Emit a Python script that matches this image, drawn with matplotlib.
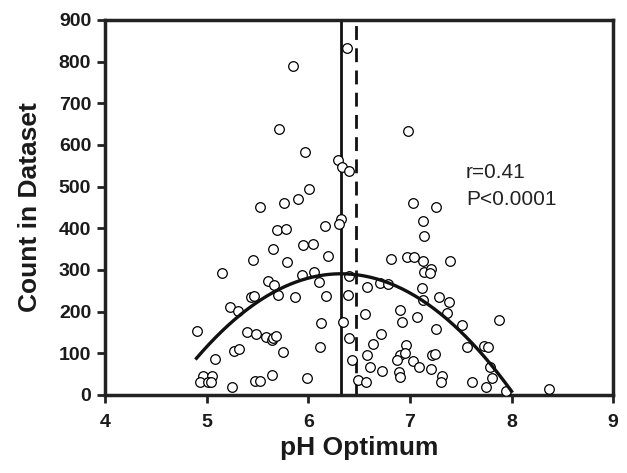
import numpy as np
import matplotlib
matplotlib.use("Agg")
from matplotlib import pyplot as plt

# pH optimum vs count
ph = [6.383, 5.849, 5.708, 5.967, 6.291, 6.327, 6.402, 6.009, 5.894, 5.760, 5.524,
      6.982, 7.032, 7.261,
      6.317, 6.304, 6.160, 5.694, 5.780, 6.048, 5.950, 5.655, 6.190, 5.458, 5.787,
      5.153, 6.055, 5.940, 6.396, 6.104, 5.603, 5.662, 5.701, 5.865, 6.173, 6.386,
      5.439, 5.465, 5.229, 5.308, 4.902, 5.399, 5.485, 5.583, 5.645, 5.655, 5.681,
      6.127, 6.343, 6.399, 6.114, 5.269, 5.315, 5.753, 5.079, 6.426, 4.960, 5.052,
      4.934, 5.016, 5.039, 5.249, 5.472, 5.524, 5.642, 5.983, 6.491,
      7.130, 7.137, 6.809, 6.973, 7.041, 7.130, 7.392, 7.137, 7.212, 7.196, 6.579,
      6.704, 6.780, 7.118, 7.130, 7.284, 7.385, 7.366, 6.553, 6.898, 6.920, 7.068,
      7.510, 7.874, 7.255, 6.714, 6.632, 6.960, 7.563, 7.727, 7.773, 6.573, 6.901,
      6.950, 6.874, 7.215, 7.248, 6.612, 6.721, 7.026, 7.091, 7.208, 6.894, 6.907,
      7.314, 7.301, 6.566, 7.608, 7.787, 7.809, 7.747, 7.943, 8.369]
count = [832, 790, 639, 582, 564, 546, 537, 494, 470, 460, 450,
         634, 460, 452,
         422, 410, 406, 396, 398, 362, 360, 350, 334, 324, 318,
         292, 295, 287, 286, 271, 274, 263, 241, 234, 238, 239,
         234, 238, 210, 202, 153, 150, 146, 138, 132, 137, 142,
         172, 174, 136, 116, 106, 110, 104, 86, 84, 46, 46,
         30, 30, 31, 18, 33, 34, 47, 40, 36,
         418, 382, 326, 330, 330, 322, 322, 296, 302, 292, 258,
         268, 266, 257, 228, 234, 222, 196, 194, 204, 176, 186,
         167, 181, 159, 147, 122, 120, 114, 118, 116, 95, 96,
         100, 84, 95, 98, 68, 58, 82, 68, 63, 54, 42,
         46, 31, 30, 31, 66, 41, 20, 10, 15]

ph_mean = 6.32     # solid line
ph_median = 6.47   # dashed line
fit_range = (4.9, 8.0)

plt.rcParams['font.family'] = ['Liberation Sans', 'DejaVu Sans']

fig = plt.figure(figsize=(6.27, 4.73), dpi=100)
ax = fig.add_axes([0.1675, 0.165, 0.8105, 0.793])

ax.scatter(ph, count, s=48, facecolors='white', edgecolors='black', linewidths=0.9, zorder=3)

# quadratic fit
coef = np.polyfit(ph, count, 2)
xs = np.linspace(fit_range[0], fit_range[1], 200)
ax.plot(xs, np.polyval(coef, xs), color='#111111', lw=2.4, zorder=4)

ax.axvline(ph_mean, color='#111111', lw=2)
ax.axvline(ph_median, color='#111111', lw=2, dashes=(5, 3))

ax.text(7.55, 520, 'r=0.41', fontsize=15, color='#222222')
ax.text(7.55, 455, 'P<0.0001', fontsize=15, color='#222222')

ax.set_xlim(4, 9)
ax.set_ylim(0, 900)
ax.set_xticks(range(4, 10))
ax.set_yticks(range(0, 901, 100))
for s in ax.spines.values():
    s.set_linewidth(2.5)
    s.set_color('#222222')
ax.tick_params(direction='out', length=6, width=2, color='#222222', labelsize=14,
               labelcolor='#1a1a1a')
ax.tick_params(axis='x', pad=8)
ax.tick_params(axis='y', pad=4)
for lab in ax.get_xticklabels() + ax.get_yticklabels():
    lab.set_fontweight('bold')
ax.set_xlabel('pH Optimum', fontsize=19, fontweight='bold', labelpad=3, color='#1a1a1a')
ax.set_ylabel('Count in Dataset', fontsize=19, fontweight='bold', labelpad=12, color='#1a1a1a')

fig.savefig('out.png', dpi=100)
